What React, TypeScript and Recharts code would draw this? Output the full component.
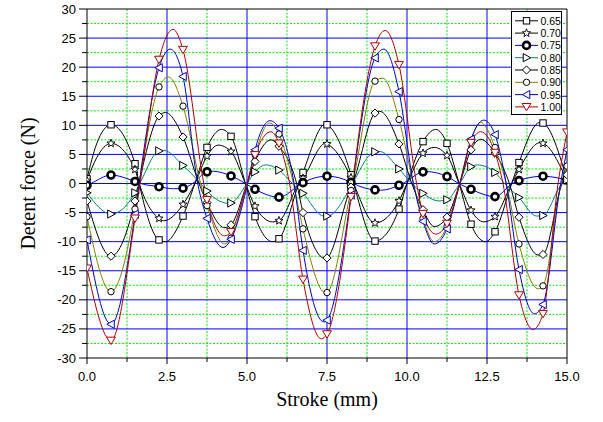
import React from 'react';
import { LineChart, Line, XAxis, YAxis, CartesianGrid, ReferenceLine, Label } from 'recharts';

type Pt = [number, number];

// Series names (legend)
const SERIES_NAMES = ['0.65', '0.70', '0.75', '0.80', '0.85', '0.90', '0.95', '1.00'];

// Stroke (mm) / detent force (N) readings for each series
const S065: Pt[] = [[0, 0.8], [0.3, 6.8], [0.75, 10.1], [1.5, 3.4], [1.63, 0], [2.25, -9.7], [2.45, -10.0], [3.0, -5.6], [3.37, 0], [3.75, 6.2], [4.2, 9.3], [4.5, 8.1], [4.95, 0], [5.25, -5.7], [5.8, -10.0], [6.0, -9.5], [6.62, 0], [6.75, 1.9], [7.45, 10.2], [7.5, 10.1], [8.25, 1.5], [8.33, 0], [9.0, -9.9], [9.75, -4.4], [10.0, 0], [10.5, 7.2], [10.9, 9.3], [11.25, 6.9], [11.63, 0], [12.0, -7.0], [12.45, -10.0], [12.75, -8.3], [13.27, 0], [13.5, 3.6], [14.15, 10.5], [14.25, 10.4], [15.0, 0.6]];
const S070: Pt[] = [[0, 0.5], [0.3, 4.4], [0.75, 6.9], [1.5, 2.4], [1.63, 0], [2.25, -6.0], [2.4, -6.4], [3.0, -3.6], [3.37, 0], [3.75, 4.7], [4.1, 6.6], [4.5, 5.5], [4.95, 0], [5.25, -3.9], [5.8, -6.6], [6.0, -6.4], [6.62, 0], [6.75, 0.9], [7.45, 6.9], [7.5, 6.8], [8.25, 1.0], [8.33, 0], [9.0, -6.8], [9.75, -3.0], [10.0, 0], [10.5, 5.2], [10.85, 6.2], [11.25, 4.8], [11.63, 0], [12.0, -4.6], [12.4, -6.6], [12.75, -5.7], [13.27, 0], [13.5, 2.4], [14.15, 7.0], [14.25, 6.9], [15.0, 0.5]];
const S075: Pt[] = [[0, -0.3], [0.12, 0], [0.75, 1.45], [1.5, 0.35], [1.68, 0], [2.25, -0.55], [2.7, -0.9], [3.0, -0.8], [3.3, 0], [3.75, 2.0], [3.95, 2.1], [4.5, 1.3], [4.95, 0], [5.25, -1.0], [6.0, -2.35], [6.7, 0], [6.75, 0.15], [7.5, 1.25], [8.25, 0.2], [8.32, 0], [9.0, -1.1], [9.2, -1.15], [9.75, -0.3], [9.87, 0], [10.5, 2.0], [10.6, 2.05], [11.25, 1.2], [11.62, 0], [12.0, -1.0], [12.75, -2.25], [13.3, 0], [13.5, 0.5], [14.25, 1.25], [15.0, 0.6]];
const S080: Pt[] = [[0, -1.6], [0.75, -5.25], [1.5, -1.6], [1.65, 0], [2.25, 5.6], [2.4, 5.7], [3.0, 3.1], [3.55, 0], [3.75, -1.3], [4.4, -3.4], [4.5, -3.35], [5.0, 0], [5.25, 2.0], [5.6, 3.2], [6.0, 2.3], [6.42, 0], [6.75, -1.7], [7.4, -5.6], [7.5, -5.6], [8.25, -0.5], [8.3, 0], [9.0, 5.45], [9.15, 5.5], [9.75, 2.5], [10.15, 0], [10.5, -1.7], [11.0, -3.0], [11.25, -2.8], [11.65, 0], [12.0, 2.9], [12.2, 3.2], [12.75, 1.9], [13.05, 0], [13.5, -2.4], [14.05, -5.6], [14.25, -5.5], [14.85, 0], [15.0, 0.6]];
const S085: Pt[] = [[0, -3.0], [0.75, -12.5], [1.5, -3.0], [1.62, 0], [2.25, 11.6], [2.45, 12.2], [3.0, 8.0], [3.5, 0], [3.75, -3.3], [4.3, -7.6], [4.5, -7.1], [5.0, 0], [5.25, 3.8], [5.75, 7.5], [6.0, 6.4], [6.55, 0], [6.75, -5.0], [7.45, -12.9], [7.5, -12.8], [8.25, -0.6], [8.3, 0], [9.0, 12.1], [9.15, 12.4], [9.75, 6.8], [10.15, 0], [10.5, -4.5], [10.85, -7.4], [11.25, -5.8], [11.65, 0], [12.0, 5.8], [12.3, 7.6], [12.75, 5.2], [13.2, 0], [13.5, -5.8], [14.1, -12.3], [14.25, -12.2], [14.85, 0], [15.0, 1.5]];
const S090: Pt[] = [[0, -5.7], [0.75, -18.6], [1.5, -4.4], [1.63, 0], [2.25, 16.6], [2.55, 18.3], [3.0, 13.3], [3.55, 0], [3.75, -3.8], [4.3, -10.4], [4.5, -9.4], [5.0, 0], [5.25, 5.0], [5.7, 10.4], [6.0, 8.5], [6.45, 0], [6.75, -7.8], [7.45, -18.8], [7.5, -18.75], [8.25, -1.2], [8.3, 0], [9.0, 17.6], [9.25, 18.1], [9.75, 11.0], [10.2, 0], [10.5, -6.0], [10.85, -10.0], [11.25, -7.4], [11.65, 0], [12.0, 7.4], [12.3, 10.5], [12.75, 6.2], [13.1, 0], [13.5, -10.4], [14.1, -18.1], [14.25, -17.6], [14.82, 0], [15.0, 3.0]];
const S095: Pt[] = [[0, -9.7], [0.75, -24.2], [1.5, -5.3], [1.63, 0], [2.25, 19.9], [2.6, 23.1], [3.0, 18.4], [3.46, 0], [3.75, -6.0], [4.25, -11.0], [4.5, -9.6], [5.02, 0], [5.25, 5.8], [5.72, 10.8], [6.0, 9.5], [6.47, 0], [6.75, -11.5], [7.4, -23.8], [7.5, -23.5], [8.25, -2.0], [8.3, 0], [9.0, 21.6], [9.28, 23.1], [9.75, 15.8], [10.2, 0], [10.5, -6.5], [10.85, -10.4], [11.25, -7.8], [11.65, 0], [12.0, 7.6], [12.4, 10.9], [12.75, 8.4], [13.1, 0], [13.5, -14.8], [13.98, -22.4], [14.25, -20.8], [14.8, 0], [15.0, 5.8]];
const S100: Pt[] = [[0, -14.6], [0.75, -27.0], [1.5, -6.0], [1.66, 0], [2.25, 21.3], [2.69, 26.5], [3.0, 23.0], [3.65, 0], [3.75, -2.8], [4.3, -9.0], [4.5, -8.3], [5.0, 0], [5.25, 4.9], [5.75, 8.9], [6.0, 6.9], [6.33, 0], [6.75, -16.5], [7.32, -26.7], [7.5, -25.9], [8.25, -2.3], [8.3, 0], [9.0, 23.6], [9.32, 26.3], [9.75, 20.4], [10.3, 0], [10.5, -5.2], [10.9, -8.7], [11.25, -6.9], [11.65, 0], [12.0, 7.0], [12.3, 8.9], [12.75, 5.3], [13.0, 0], [13.5, -19.2], [13.94, -25.1], [14.25, -22.4], [14.72, 0], [15.0, 8.8]];

// Axis ticks and grid values
const X_TICKS = [0, 1.25, 2.5, 3.75, 5, 6.25, 7.5, 8.75, 10, 11.25, 12.5, 13.75, 15];
const Y_TICKS = [-30, -27.5, -25, -22.5, -20, -17.5, -15, -12.5, -10, -7.5, -5, -2.5, 0, 2.5, 5, 7.5, 10, 12.5, 15, 17.5, 20, 22.5, 25, 27.5, 30];
const X_MAJOR_GRID = [2.5, 5, 7.5, 10, 12.5];
const X_MINOR_GRID = [1.25, 3.75, 6.25, 8.75, 11.25, 13.75];
const Y_MAJOR_GRID = [-25, -20, -15, -10, -5, 0, 5, 10, 15, 20, 25];
const Y_MINOR_GRID = [-27.5, -22.5, -17.5, -12.5, -7.5, -2.5, 2.5, 7.5, 12.5, 17.5, 22.5, 27.5];
const MARKER_STEP = 0.75;

type Kind = 'square' | 'star' | 'boldCircle' | 'triRight' | 'diamond' | 'circle' | 'triLeft' | 'triDown';

const SERIES = [
  { name: SERIES_NAMES[0], data: S065, line: '#000000', kind: 'square' as Kind, mColor: '#000000' },
  { name: SERIES_NAMES[1], data: S070, line: '#000000', kind: 'star' as Kind, mColor: '#000000' },
  { name: SERIES_NAMES[2], data: S075, line: '#0000ff', kind: 'boldCircle' as Kind, mColor: '#000000' },
  { name: SERIES_NAMES[3], data: S080, line: '#008080', kind: 'triRight' as Kind, mColor: '#000000' },
  { name: SERIES_NAMES[4], data: S085, line: '#000000', kind: 'diamond' as Kind, mColor: '#000000' },
  { name: SERIES_NAMES[5], data: S090, line: '#808000', kind: 'circle' as Kind, mColor: '#000000' },
  { name: SERIES_NAMES[6], data: S095, line: '#0000c8', kind: 'triLeft' as Kind, mColor: '#0000c8' },
  { name: SERIES_NAMES[7], data: S100, line: '#b00000', kind: 'triDown' as Kind, mColor: '#b00000' },
];

function Marker({ kind, cx, cy, color }: { kind: Kind; cx: number; cy: number; color: string }) {
  const common = { fill: '#ffffff', stroke: color, strokeWidth: 1 };
  switch (kind) {
    case 'square':
      return <rect x={cx - 3.2} y={cy - 3.2} width={6.4} height={6.4} {...common} />;
    case 'star': {
      const pts: string[] = [];
      for (let i = 0; i < 10; i++) {
        const r = i % 2 === 0 ? 4.3 : 1.8;
        const a = -Math.PI / 2 + (i * Math.PI) / 5;
        pts.push(`${cx + r * Math.cos(a)},${cy + r * Math.sin(a)}`);
      }
      return <polygon points={pts.join(' ')} {...common} strokeWidth={0.9} />;
    }
    case 'boldCircle':
      return <circle cx={cx} cy={cy} r={3.5} fill="#ffffff" stroke={color} strokeWidth={2.6} />;
    case 'triRight':
      return <polygon points={`${cx - 3.3},${cy - 4.1} ${cx + 4.2},${cy} ${cx - 3.3},${cy + 4.1}`} {...common} />;
    case 'diamond':
      return <polygon points={`${cx},${cy - 4.1} ${cx + 4.1},${cy} ${cx},${cy + 4.1} ${cx - 4.1},${cy}`} {...common} />;
    case 'circle':
      return <circle cx={cx} cy={cy} r={3.2} {...common} />;
    case 'triLeft':
      return <polygon points={`${cx + 3.3},${cy - 4.1} ${cx - 4.2},${cy} ${cx + 3.3},${cy + 4.1}`} {...common} />;
    case 'triDown':
    default:
      return <polygon points={`${cx - 4.4},${cy - 3.4} ${cx + 4.4},${cy - 3.4} ${cx},${cy + 4}`} {...common} />;
  }
}

const FONT = 'Liberation Sans, Arial, sans-serif';

function XTick(props: any) {
  const { x, y, payload } = props;
  const v = payload.value as number;
  const major = Math.abs(v / 2.5 - Math.round(v / 2.5)) < 1e-9;
  return (
    <g>
      <line x1={x} y1={y} x2={x} y2={y + (major ? 6 : 4)} stroke="#000" strokeWidth={1} />
      {major && (
        <text x={x} y={y + 23} textAnchor="middle" fontFamily={FONT} fontSize={13} fill="#000">
          {v.toFixed(1)}
        </text>
      )}
    </g>
  );
}

function YTick(props: any) {
  const { x, y, payload } = props;
  const v = payload.value as number;
  const major = Math.abs(v / 5 - Math.round(v / 5)) < 1e-9;
  return (
    <g>
      <line x1={x - (major ? 8 : 5)} y1={y} x2={x} y2={y} stroke="#000" strokeWidth={1} />
      {major && (
        <text x={x - 11} y={y + 4.5} textAnchor="end" fontFamily={FONT} fontSize={13} fill="#000">
          {String(v)}
        </text>
      )}
    </g>
  );
}

function makeDot(kind: Kind, color: string) {
  return (p: any) => {
    const xv = p?.payload?.x;
    const k = xv / MARKER_STEP;
    const key = `${kind}-${p.index}`;
    if (p.cx == null || p.cy == null || Math.abs(k - Math.round(k)) > 1e-6) return <g key={key} />;
    return (
      <g key={key}>
        <Marker kind={kind} cx={p.cx} cy={p.cy} color={color} />
      </g>
    );
  };
}

function Legend() {
  return (
    <div style={{ position: 'absolute', left: 511, top: 11, width: 51, height: 104 }}>
      <svg width={51} height={104}>
        <rect x={0.5} y={0.5} width={50} height={103} fill="#ffffff" stroke="#000" strokeWidth={1} />
        {SERIES.map((s, i) => {
          const cy = 9.8 + i * 12.3;
          return (
            <g key={s.name}>
              <line x1={4} y1={cy} x2={27} y2={cy} stroke={s.line} strokeWidth={1} />
              <Marker kind={s.kind} cx={15.5} cy={cy} color={s.mColor} />
              <text x={29.5} y={cy + 4} fontFamily={FONT} fontSize={10.5} fill="#000">
                {s.name}
              </text>
            </g>
          );
        })}
      </svg>
    </div>
  );
}

export default function App() {
  return (
    <div style={{ position: 'absolute', left: 0, top: 0, width: 603, height: 422, background: '#fff' }}>
      <LineChart width={603} height={422} margin={{ top: 9, right: 36, bottom: 0, left: 0 }}>
        <CartesianGrid
          horizontalValues={Y_MINOR_GRID}
          verticalValues={X_MINOR_GRID}
          stroke="#00ee00"
          strokeDasharray="2 1.5"
          strokeWidth={1}
        />
        <CartesianGrid
          horizontalValues={Y_MAJOR_GRID}
          verticalValues={X_MAJOR_GRID}
          stroke="#0000ff"
          strokeWidth={1}
        />
        <XAxis
          type="number"
          dataKey="x"
          domain={[0, 15]}
          ticks={X_TICKS}
          interval={0}
          tick={<XTick />}
          tickLine={false}
          tickSize={0}
          tickMargin={0}
          axisLine={{ stroke: '#000', strokeWidth: 1 }}
          height={64}
          allowDataOverflow
        >
          <Label
            content={(props: any) => {
              const vb = props.viewBox || { x: 87, y: 358, width: 480, height: 64 };
              return (
                <text x={vb.x + vb.width / 2} y={vb.y + 48} textAnchor="middle" fontFamily="Liberation Serif, Times New Roman, serif" fontSize={20} fill="#000">
                  Stroke (mm)
                </text>
              );
            }}
          />
        </XAxis>
        <YAxis
          type="number"
          domain={[-30, 30]}
          ticks={Y_TICKS}
          interval={0}
          tick={<YTick />}
          tickLine={false}
          tickSize={0}
          tickMargin={0}
          axisLine={{ stroke: '#000', strokeWidth: 1 }}
          width={87}
          allowDataOverflow
        >
          <Label
            content={(props: any) => {
              const vb = props.viewBox || { x: 0, y: 9, width: 87, height: 349 };
              const cx = vb.x + 28;
              const cy = vb.y + vb.height / 2;
              return (
                <text x={cx} y={cy} transform={`rotate(-90 ${cx} ${cy})`} textAnchor="middle" dominantBaseline="central" fontFamily="Liberation Serif, Times New Roman, serif" fontSize={20} fill="#000">
                  Detent force (N)
                </text>
              );
            }}
          />
        </YAxis>
        <ReferenceLine y={30} stroke="#000" strokeWidth={1} />
        <ReferenceLine x={15} stroke="#000" strokeWidth={1} />
        {SERIES.map((s) => (
          <Line
            key={s.name}
            data={s.data.map(([x, y]) => ({ x, y }))}
            dataKey="y"
            name={s.name}
            type="monotone"
            stroke={s.line}
            strokeWidth={1}
            dot={makeDot(s.kind, s.mColor)}
            activeDot={false}
            isAnimationActive={false}
            legendType="none"
          />
        ))}
      </LineChart>
      <Legend />
    </div>
  );
}
